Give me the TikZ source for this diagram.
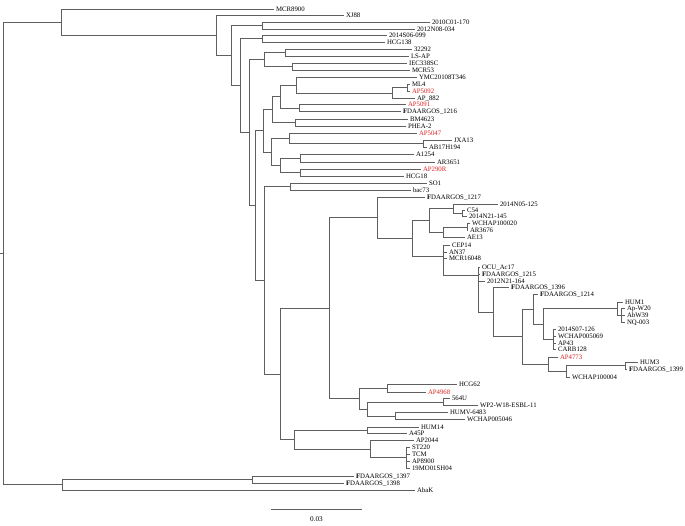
\documentclass[tikz,border=0pt]{standalone}
\usepackage{fontspec}
\setmainfont{Liberation Serif}
\definecolor{linec}{RGB}{95,95,95}
\definecolor{labred}{RGB}{220,35,35}
\newcommand\lf[4]{\node[leaf] (#1) at (#2,#3) {#4};}
\newcommand\rlf[4]{\node[rleaf] (#1) at (#2,#3) {#4};}
\newcommand\fd{\textbf{F}DAARGOS\_}
\newcommand\edg[2]{\draw[br] (#1) |- (#2);}
\begin{document}
\begin{tikzpicture}[x=1pt,y=-1pt,
  br/.style={draw=linec, line width=0.75pt},
  leaf/.style={anchor=west, inner xsep=1.8pt, inner ysep=0pt, text height=4.6pt, text depth=0pt, font=\fontsize{6.8}{7}\selectfont},
  rleaf/.style={leaf, text=labred}]
\useasboundingbox (0,0) rectangle (685,526);
% leaves
\lf{l1}{274}{9}{MCR8900}
\lf{l2}{344}{15.5}{XJ88}
\lf{l3}{430}{22.5}{2010C01-170}
\lf{l4}{415}{29}{2012N08-034}
\lf{l5}{387}{35.5}{2014S06-099}
\lf{l6}{385}{42}{HCG138}
\lf{l7}{412}{49}{32292}
\lf{l8}{409}{56}{LS-AP}
\lf{l9}{407}{63}{IEC338SC}
\lf{l10}{410}{70}{MCR53}
\lf{l11}{417}{77}{YMC20108T346}
\lf{l12}{410}{84.5}{ML4}
\rlf{l13}{410}{91}{AP5092}
\lf{l14}{415}{98}{AP\_882}
\rlf{l15}{406}{104.5}{AP5091}
\lf{l16}{401}{111.5}{\fd 1216}
\lf{l17}{408}{119}{BM4623}
\lf{l18}{406}{126}{PHEA-2}
\rlf{l19}{417}{133.5}{AP5047}
\lf{l20}{452}{140.5}{JXA13}
\lf{l21}{427}{147}{AB17H194}
\lf{l22}{414}{154.5}{A1254}
\lf{l23}{435}{162}{AR3651}
\rlf{l24}{421}{169}{AP290R}
\lf{l25}{404}{176}{HCG18}
\lf{l26}{427}{183}{SO1}
\lf{l27}{411}{190}{bac73}
\lf{l28}{425}{197}{\fd 1217}
\lf{l29}{498}{204}{2014N05-125}
\lf{l30}{465}{210.5}{C54}
\lf{l31}{467}{216.5}{2014N21-145}
\lf{l32}{470}{223.5}{WCHAP100020}
\lf{l33}{468}{230.5}{AR3676}
\lf{l34}{465}{237.5}{AE13}
\lf{l35}{450}{245}{CEP14}
\lf{l36}{447}{252}{AN37}
\lf{l37}{447}{258.5}{MCR16048}
\lf{l38}{480}{267}{OCU\_Ac17}
\lf{l39}{480}{274}{\fd 1215}
\lf{l40}{485}{281}{2012N21-164}
\lf{l41}{509}{287.5}{\fd 1396}
\lf{l42}{538}{294.5}{\fd 1214}
\lf{l43}{623}{302}{HUM1}
\lf{l44}{625}{308.5}{Ap-W20}
\lf{l45}{625}{315.5}{AbW39}
\lf{l46}{625}{322.5}{NQ-003}
\lf{l47}{556}{329}{2014S07-126}
\lf{l48}{556}{336}{WCHAP005069}
\lf{l49}{556}{343}{AP43}
\lf{l50}{556}{349.5}{CARB128}
\rlf{l51}{558}{357}{AP4773}
\lf{l52}{638}{362.5}{HUM3}
\lf{l53}{627}{369}{\fd 1399}
\lf{l54}{570}{377}{WCHAP100004}
\lf{l55}{457}{384.5}{HCG62}
\rlf{l56}{426}{392}{AP4968}
\lf{l57}{450}{398.5}{564U}
\lf{l58}{478}{405.5}{WP2-W18-ESBL-11}
\lf{l59}{448}{412.5}{HUMV-6483}
\lf{l60}{465}{419.5}{WCHAP005046}
\lf{l61}{419}{427}{HUM14}
\lf{l62}{407}{433.5}{A45P}
\lf{l63}{414}{440.5}{AP2044}
\lf{l64}{410}{447.5}{ST220}
\lf{l65}{410}{454.5}{TCM}
\lf{l66}{410}{461}{AP8900}
\lf{l67}{410}{468}{19MO01SH04}
\lf{l68}{354}{476}{\fd 1397}
\lf{l69}{344}{483}{\fd 1398}
\lf{l70}{415}{490}{AbaK}
% internal nodes
\coordinate (stub) at (0,253.5);
\coordinate (R) at (3,253.5);
\coordinate (A) at (61,22.3);
\coordinate (C) at (216,35.6);
\coordinate (D) at (231,55.7);
\coordinate (E) at (262,25.75);
\coordinate (F) at (240,85.6);
\coordinate (G) at (262,38.75);
\coordinate (H) at (249,132.5);
\coordinate (J1) at (264,59.5);
\coordinate (K) at (285,52.5);
\coordinate (L) at (292,66.5);
\coordinate (N255) at (255,205.5);
\coordinate (P) at (263,130.75);
\coordinate (Q) at (272,109.5);
\coordinate (Qp) at (280,96.5);
\coordinate (Q1) at (296,85);
\coordinate (n2) at (392,92.9);
\coordinate (n1) at (407,87.75);
\coordinate (Q2) at (299,108);
\coordinate (Q3) at (295,122.5);
\coordinate (S) at (271,152);
\coordinate (S1) at (289,138.6);
\coordinate (JX) at (423,143.75);
\coordinate (S2) at (280,165.4);
\coordinate (S21) at (300,158.25);
\coordinate (S22) at (300,172.5);
\coordinate (N264) at (264,280.2);
\coordinate (SB) at (290,186.5);
\coordinate (N280) at (280,373.9);
\coordinate (N329) at (329,308.1);
\coordinate (T) at (377,217.6);
\coordinate (N412) at (412,238.25);
\coordinate (T1) at (429,220.5);
\coordinate (T2) at (453,208.75);
\coordinate (T2c) at (462,213.5);
\coordinate (T3) at (443,232.25);
\coordinate (T4) at (467,227);
\coordinate (N443) at (443,256);
\coordinate (N477) at (478,275);
\coordinate (N493) at (493,312.1);
\coordinate (N522) at (522,336.7);
\coordinate (N533) at (533,309.25);
\coordinate (N543) at (543,324);
\coordinate (H1) at (617,308.75);
\coordinate (H2) at (621,315.5);
\coordinate (G1) at (553,339.25);
\coordinate (N548) at (548,364.2);
\coordinate (N566) at (566,371.4);
\coordinate (N625) at (625,365.75);
\coordinate (U) at (359,398.6);
\coordinate (U1) at (387,388.25);
\coordinate (U2) at (367,409);
\coordinate (U3) at (443,402);
\coordinate (U4) at (395,416);
\coordinate (N294) at (294,439.7);
\coordinate (V1) at (367,430.25);
\coordinate (V2) at (370,449.1);
\coordinate (V3) at (406,457.75);
\coordinate (B) at (62,484.75);
\coordinate (B2) at (252,479.5);
% edges
\draw[br] (stub) -- (R);
\edg{R}{A}\edg{R}{B}
\edg{A}{l1.west}\edg{A}{C}
\edg{C}{l2.west}\edg{C}{D}
\edg{D}{E}\edg{D}{F}
\edg{E}{l3.west}\edg{E}{l4.west}
\edg{F}{G}\edg{F}{H}
\edg{G}{l5.west}\edg{G}{l6.west}
\edg{H}{J1}\edg{H}{N255}
\edg{J1}{K}\edg{J1}{L}
\edg{K}{l7.west}\edg{K}{l8.west}
\edg{L}{l9.west}\edg{L}{l10.west}
\edg{N255}{P}\edg{N255}{N264}
\edg{P}{Q}\edg{P}{S}
\edg{Q}{Qp}\edg{Q}{Q3}
\edg{Qp}{Q1}\edg{Qp}{Q2}
\edg{Q1}{l11.west}\edg{Q1}{n2}
\edg{n2}{n1}\edg{n2}{l14.west}
\edg{n1}{l12.west}\edg{n1}{l13.west}
\edg{Q2}{l15.west}\edg{Q2}{l16.west}
\edg{Q3}{l17.west}\edg{Q3}{l18.west}
\edg{S}{S1}\edg{S}{S2}
\edg{S1}{l19.west}\edg{S1}{JX}
\edg{JX}{l20.west}\edg{JX}{l21.west}
\edg{S2}{S21}\edg{S2}{S22}
\edg{S21}{l22.west}\edg{S21}{l23.west}
\edg{S22}{l24.west}\edg{S22}{l25.west}
\edg{N264}{SB}\edg{N264}{N280}
\edg{SB}{l26.west}\edg{SB}{l27.west}
\edg{N280}{N329}\edg{N280}{N294}
\edg{N329}{T}\edg{N329}{U}
\edg{T}{l28.west}\edg{T}{N412}
\edg{N412}{T1}\edg{N412}{N443}
\edg{T1}{T2}\edg{T1}{T3}
\edg{T2}{l29.west}\edg{T2}{T2c}
\edg{T2c}{l30.west}\edg{T2c}{l31.west}
\edg{T3}{T4}\edg{T3}{l34.west}
\edg{T4}{l32.west}\edg{T4}{l33.west}
\edg{N443}{l35.west}\edg{N443}{l36.west}\edg{N443}{l37.west}\edg{N443}{N477}
\edg{N477}{l38.west}\edg{N477}{l39.west}\edg{N477}{l40.west}\edg{N477}{N493}
\edg{N493}{l41.west}\edg{N493}{N522}
\edg{N522}{N533}\edg{N522}{N548}
\edg{N533}{l42.west}\edg{N533}{N543}
\edg{N543}{H1}\edg{N543}{G1}
\edg{H1}{l43.west}\edg{H1}{H2}
\edg{H2}{l44.west}\edg{H2}{l45.west}\edg{H2}{l46.west}
\edg{G1}{l47.west}\edg{G1}{l48.west}\edg{G1}{l49.west}\edg{G1}{l50.west}
\edg{N548}{l51.west}\edg{N548}{N566}
\edg{N566}{N625}\edg{N566}{l54.west}
\edg{N625}{l52.west}\edg{N625}{l53.west}
\edg{U}{U1}\edg{U}{U2}
\edg{U1}{l55.west}\edg{U1}{l56.west}
\edg{U2}{U3}\edg{U2}{U4}
\edg{U3}{l57.west}\edg{U3}{l58.west}
\edg{U4}{l59.west}\edg{U4}{l60.west}
\edg{N294}{V1}\edg{N294}{V2}
\edg{V1}{l61.west}\edg{V1}{l62.west}
\edg{V2}{l63.west}\edg{V2}{V3}
\edg{V3}{l64.west}\edg{V3}{l65.west}\edg{V3}{l66.west}\edg{V3}{l67.west}
\edg{B}{B2}\edg{B}{l70.west}
\edg{B2}{l68.west}\edg{B2}{l69.west}
% scale bar
\coordinate (sb1) at (271,509);
\coordinate (sb2) at (362,509);
\draw[br] (sb1) -- (sb2);
\node[font=\fontsize{7.2}{8}\selectfont, inner sep=0pt] (sblab) at (316.5,519.5) {0.03};
\end{tikzpicture}
\end{document}
